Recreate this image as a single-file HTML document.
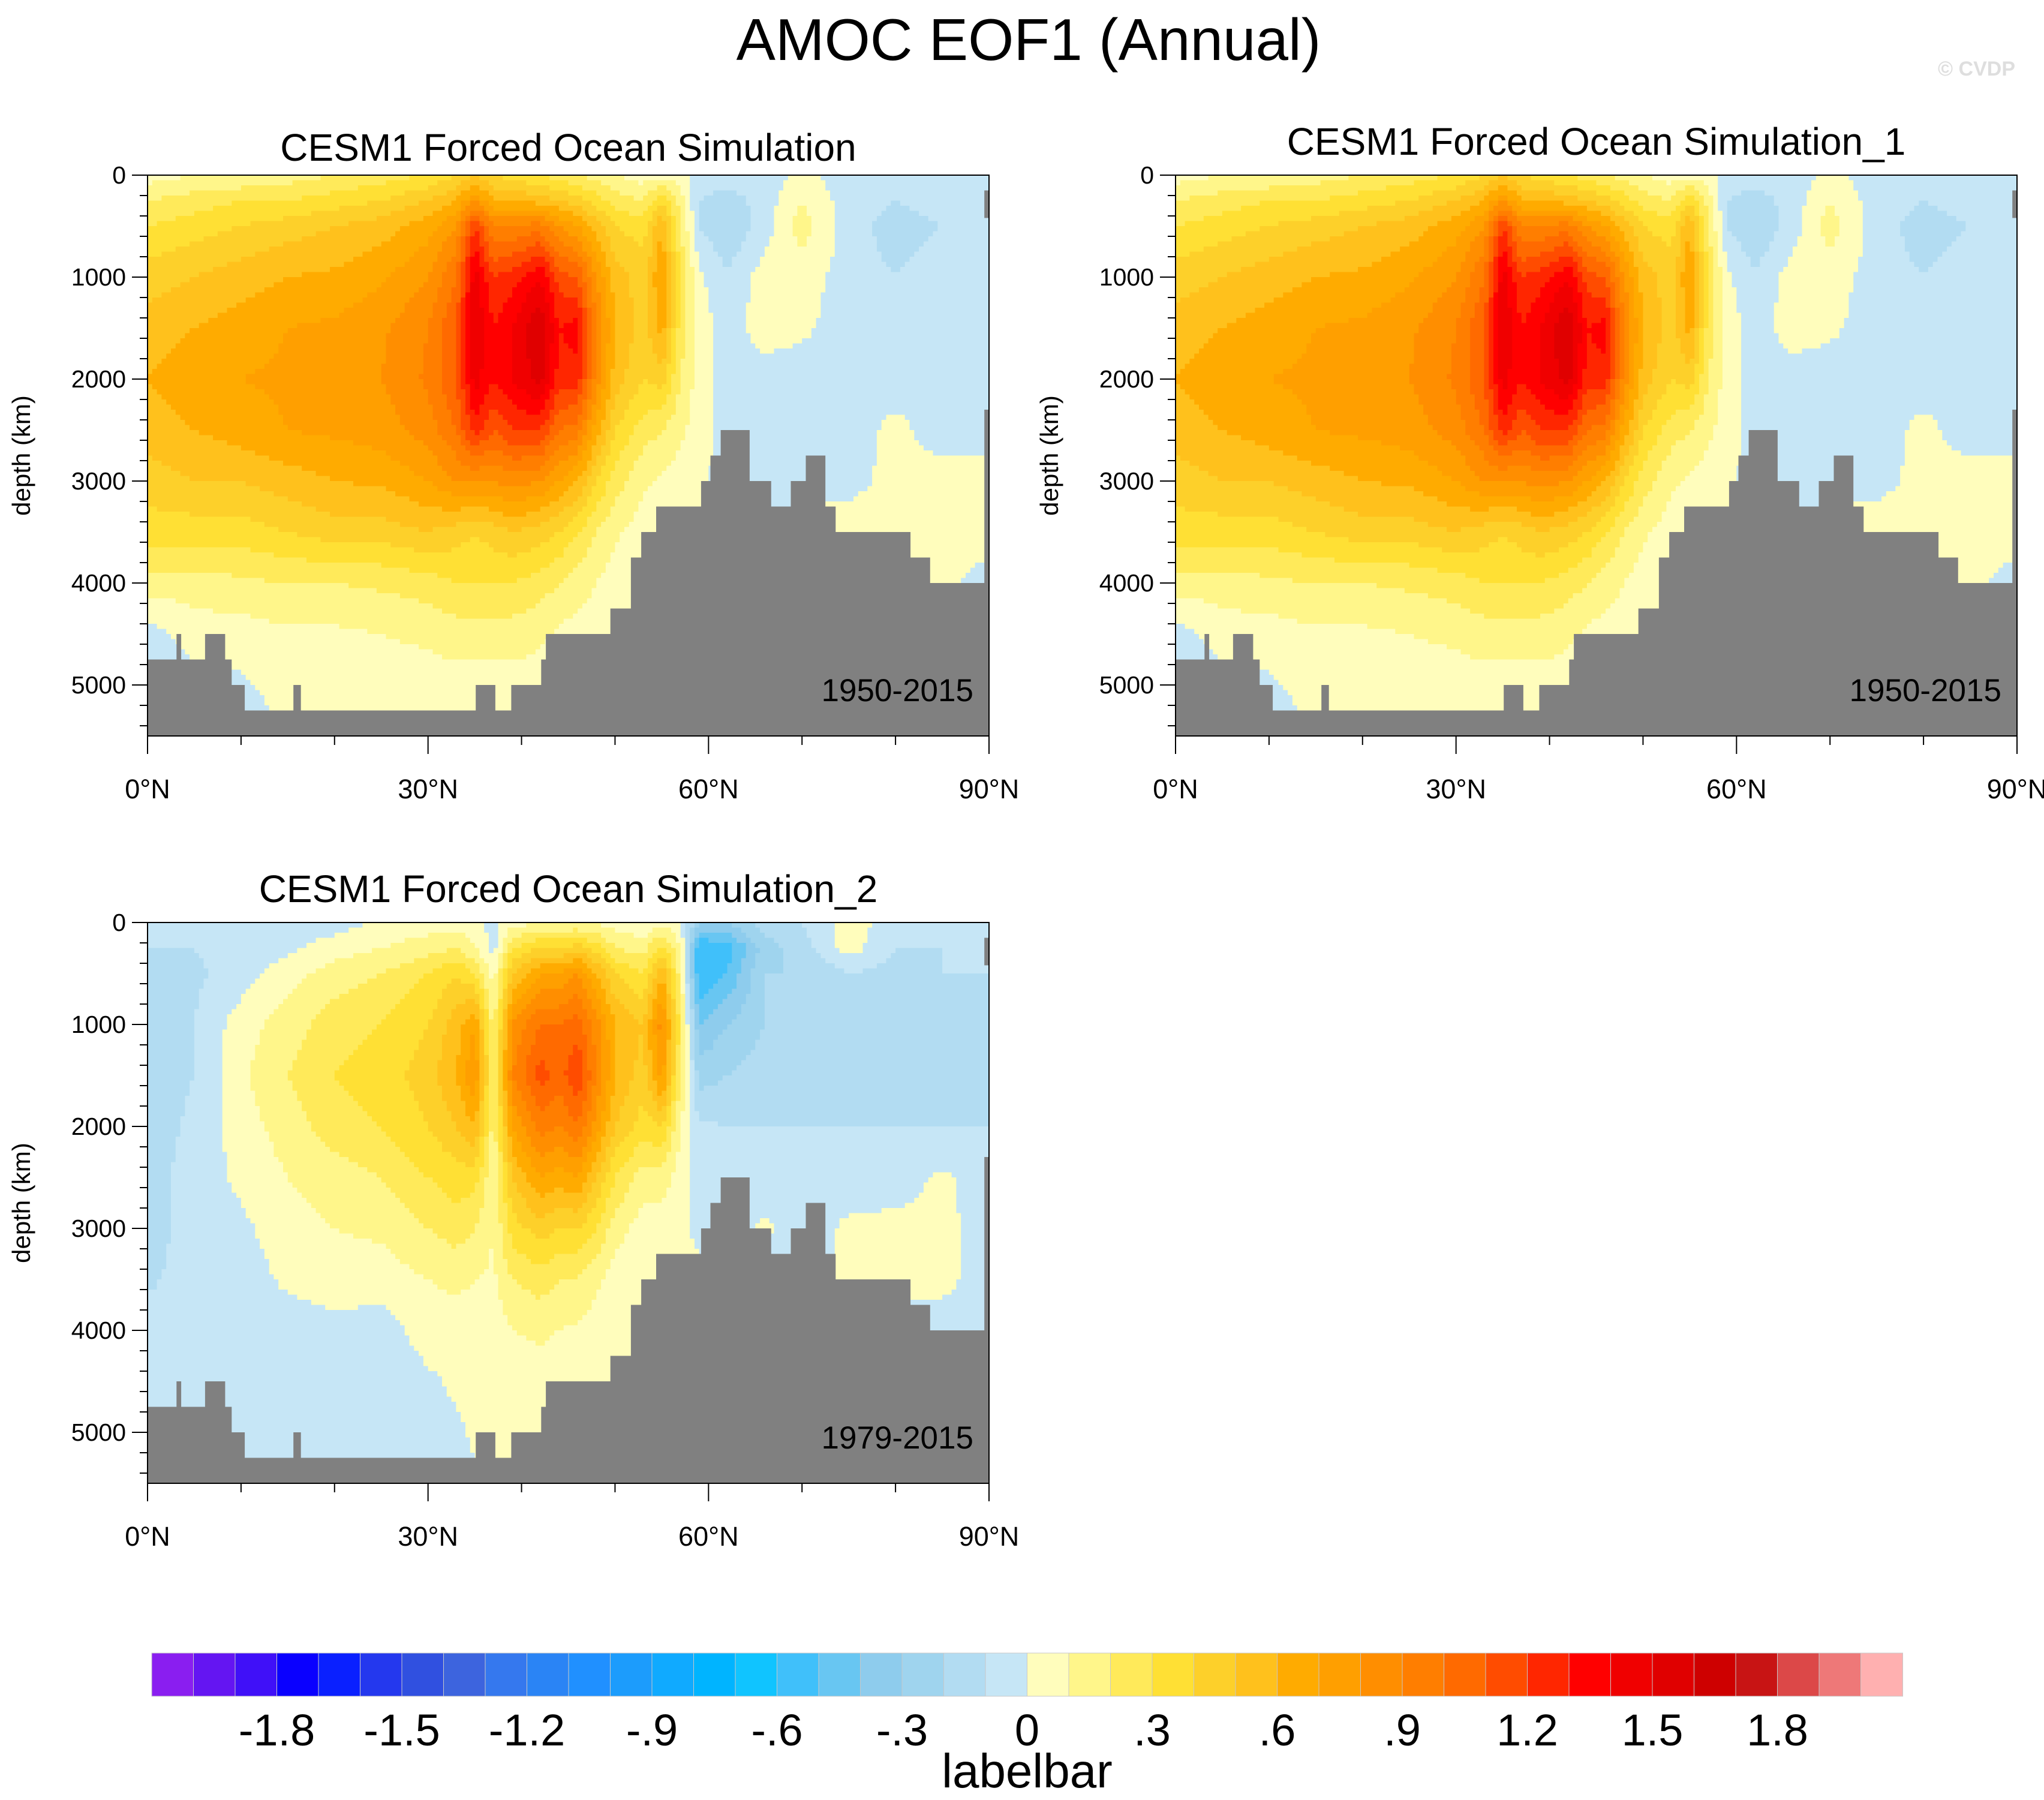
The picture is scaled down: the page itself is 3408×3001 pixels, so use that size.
<!DOCTYPE html>
<html><head><meta charset="utf-8"><style>
html,body{margin:0;padding:0;background:#fff}
svg{display:block}
text{font-family:"Liberation Sans",Arial,sans-serif}
</style></head><body>
<svg id="root" width="3408" height="3001" viewBox="0 0 3408 3001" xmlns="http://www.w3.org/2000/svg">
<text x="1715" y="100" font-size="98" text-anchor="middle">AMOC EOF1 (Annual)</text>
<text x="3360" y="126" font-size="34" font-weight="bold" fill="#dedede" text-anchor="end">© CVDP</text>
<g id="panels"></g>
<g id="labelbar"></g>
</svg>
<script>
// ---- data ----
const lats = [0,5,10,15,20,25,30,33,35,37,39,42,44,46,48,50,53,55,57,59,62,66,70,75,80,85,90];
const depths = [0,250,500,1000,1500,2000,2500,3000,3500,4000,4500,5000,5500];
const eofForced = [
[.05,.2,.3,.45,.55,.6,.55,.45,.35,.15,-.05,-.05,-.05],
[.1,.25,.35,.5,.6,.65,.6,.5,.35,.15,.05,-.05,-.05],
[.1,.3,.4,.55,.65,.7,.65,.5,.35,.18,.05,-.02,-.05],
[.15,.3,.45,.6,.7,.72,.7,.55,.4,.2,.08,.05,-.02],
[.2,.35,.5,.62,.72,.75,.72,.6,.45,.2,.08,.05,.02],
[.25,.4,.55,.68,.78,.8,.75,.62,.45,.22,.1,.05,.02],
[.3,.5,.65,.8,.9,.92,.85,.7,.5,.25,.12,.05,.02],
[.4,.6,.8,1.0,1.1,1.1,1.0,.8,.45,.3,.15,.06,.02],
[.5,.8,1.2,1.45,1.5,1.45,1.25,.8,.4,.3,.15,.05,.02],
[.4,.6,.9,1.2,1.3,1.3,1.1,.8,.45,.3,.15,.05,.02],
[.35,.6,.9,1.25,1.4,1.4,1.2,.85,.5,.3,.15,.06,.02],
[.3,.55,.95,1.4,1.6,1.55,1.2,.8,.45,.25,.12,.05,.02],
[.25,.5,.8,1.15,1.3,1.25,1.0,.7,.4,.2,.08,.04,.02],
[.2,.45,.7,1.1,1.35,1.25,.95,.6,.3,.15,.06,.03,.02],
[.15,.35,.55,.8,.9,.85,.65,.4,.2,.1,.05,.03,.02],
[.1,.25,.4,.55,.6,.55,.4,.25,.12,.05,.02,.02,.02],
[.05,.2,.35,.45,.45,.4,.25,.12,.05,.02,-.02,-.02,-.02],
[.05,.4,.6,.7,.65,.45,.2,.08,.03,-.02,-.03,-.03,-.03],
[.05,.15,.2,.3,.25,.2,.12,.05,.02,-.03,-.03,-.03,-.03],
[-.05,-.1,-.1,.02,.05,.05,.05,.03,-.02,-.03,-.03,-.03,-.03],
[-.05,-.15,-.2,-.08,-.05,-.05,-.05,-.05,-.05,-.05,-.05,-.05,-.05],
[-.05,-.05,-.05,.05,.05,-.05,-.05,-.02,-.02,-.05,-.05,-.05,-.05],
[.02,.1,.15,.05,.02,-.05,-.05,-.02,.02,.03,-.03,-.05,-.05],
[-.05,-.05,-.05,-.05,-.05,-.05,-.05,-.02,.03,.05,.02,-.05,-.05],
[-.05,-.1,-.15,-.1,-.05,-.05,.03,.02,.03,.02,-.05,-.05,-.05],
[-.05,-.05,-.1,-.05,-.05,-.05,-.05,.05,.05,.03,-.05,-.05,-.05],
[-.05,-.05,-.05,-.05,-.05,-.05,-.05,.05,.05,-.05,-.05,-.05,-.05]
];
const eofRecent = [
[-.05,-.1,-.15,-.15,-.15,-.15,-.15,-.15,-.12,-.05,-.05,-.05,-.05],
[-.05,-.1,-.12,-.1,-.1,-.08,-.05,-.05,-.05,-.05,-.05,-.05,-.05],
[-.05,-.05,-.05,.05,.08,.05,.02,-.02,-.05,-.05,-.05,-.05,-.05],
[-.05,-.02,.05,.15,.2,.15,.1,.05,.02,-.05,-.05,-.05,-.05],
[-.05,.05,.15,.25,.3,.25,.15,.1,.05,-.03,-.05,-.05,-.05],
[.02,.1,.2,.3,.35,.3,.2,.12,.05,-.05,-.08,-.05,-.05],
[.05,.15,.3,.4,.45,.4,.3,.2,.1,.05,-.02,-.05,-.05],
[.05,.2,.4,.55,.6,.5,.35,.25,.12,.06,.02,-.02,-.05],
[.02,.1,.3,.7,.8,.6,.35,.2,.1,.06,.03,.02,-.02],
[-.02,-.05,.05,.15,.2,.15,.1,.1,.08,.05,.03,.02,.02],
[.05,.3,.5,.8,.9,.7,.5,.35,.2,.1,.05,.02,.02],
[.1,.4,.7,1.0,1.15,.95,.7,.45,.25,.12,.05,.02,.02],
[.1,.4,.7,1.0,1.05,.9,.65,.4,.2,.1,.05,.02,.02],
[.1,.45,.8,1.05,1.2,1.0,.7,.4,.2,.08,.04,.02,.02],
[.08,.35,.6,.85,.9,.75,.5,.3,.12,.05,.03,.02,.02],
[.05,.2,.4,.6,.6,.5,.3,.15,.05,.03,.02,.02,.02],
[.02,.15,.3,.5,.45,.35,.15,.05,.02,.02,.02,.02,.02],
[.05,.35,.6,.85,.75,.4,.15,.05,.02,.02,.02,.02,.02],
[.02,.1,.15,.25,.2,.1,.05,.02,.02,.02,.02,.02,.02],
[-.3,-.6,-.6,-.4,-.25,-.08,-.03,-.02,.02,.02,.02,.02,.02],
[-.3,-.55,-.5,-.3,-.2,-.1,-.05,-.05,-.05,-.05,-.05,-.05,-.05],
[-.15,-.25,-.2,-.2,-.15,-.1,-.05,.02,-.05,-.05,-.05,-.05,-.05],
[-.1,-.15,-.2,-.2,-.15,-.1,-.05,-.05,-.05,-.05,-.05,-.05,-.05],
[.05,.05,-.1,-.2,-.15,-.1,-.05,.02,.02,-.05,-.05,-.05,-.05],
[-.05,-.1,-.15,-.15,-.15,-.1,-.05,.03,.03,-.05,-.05,-.05,-.05],
[-.05,-.1,-.1,-.15,-.15,-.1,.02,.03,.03,-.05,-.05,-.05,-.05],
[-.1,-.1,-.1,-.1,-.1,-.1,-.05,-.05,-.05,-.05,-.05,-.05,-.05]
];
const bathyStart = [0,3.1,3.6,6.15,8.3,9.0,10.4,15.6,16.4,35.1,37.2,38.9,42.1,42.6,49.5,51.7,52.8,54.4,59.2,60.2,61.3,64.4,66.7,68.8,70.4,72.5,73.6,81.6,83.7,89.5];
const bathyTop   = [4750,4500,4750,4500,4750,5000,5250,5000,5250,5000,5250,5000,4750,4500,4250,3750,3500,3250,3000,2750,2500,3000,3250,3000,2750,3250,3500,3750,4000,2300];
const levelValues = [-1.8,-1.5,-1.2,-0.9,-0.6,-0.3,0,0.3,0.6,0.9,1.2,1.5,1.8];
const levelLabels = ["-1.8","-1.5","-1.2","-.9","-.6","-.3","0",".3",".6",".9","1.2","1.5","1.8"];
const depthTicks = [0,1000,2000,3000,4000,5000];
const latTicks = [0,30,60,90];
const palette = ["#8a1ef0","#6415f2","#4010f8","#0a00ff","#0a20ff","#2438ee","#3050e0","#3d64de","#3578ee","#2a84f5","#2090ff","#1c9cfc","#10aaff","#00b4ff","#10c4ff","#40c0fa","#68c6f2","#8ecced","#9fd4ee","#b2dcf2","#c6e6f6","#fffdbc","#fff68a","#ffea5a","#ffe034","#fdd02a","#ffc11c","#ffab00","#ff9f00","#ff8e00","#ff7e00","#ff6a00","#ff4c00","#ff2600","#ff0000","#f00000","#e00000","#ce0000","#c81414","#dc4848","#ee7878","#ffb0b0"];

const NS="http://www.w3.org/2000/svg";
function mk(tag, attrs, parent){const e=document.createElementNS(NS,tag);for(const k in attrs)e.setAttribute(k,attrs[k]);if(parent)parent.appendChild(e);return e;}
function colorFor(v){let i=Math.floor(v*10+1e-9)+21;i=Math.max(0,Math.min(41,i));return palette[i];}
function interp(grid,lat,dep){
  let i=0;while(i<lats.length-2&&lat>lats[i+1])i++;
  let j=0;while(j<depths.length-2&&dep>depths[j+1])j++;
  const tx=(lat-lats[i])/(lats[i+1]-lats[i]), ty=(dep-depths[j])/(depths[j+1]-depths[j]);
  const a=grid[i][j],b=grid[i+1][j],c=grid[i][j+1],d=grid[i+1][j+1];
  return (a*(1-tx)+b*tx)*(1-ty)+(c*(1-tx)+d*tx)*ty;
}
const PW=1403, PH=935;
function drawPanel(px,py,grid,title,period,titleY,pname){
  const g=mk("g",{},document.getElementById("panels"));
  
  
  const X=l=>px+l/90*PW, Y=d=>py+d/5500*PH;
  const field=mk("g",{},g);
  
  
  const dl=0.5, dd=50;
  for(let d=0; d<5500; d+=dd){
    let runStart=0, runCol=null;
    for(let l=0; l<=90; l+=dl){
      const col = l<90 ? colorFor(interp(grid,l+dl/2,d+dd/2)) : null;
      if(col!==runCol){
        if(runCol!==null){
          const r=mk("rect",{x:X(runStart).toFixed(1),y:Y(d).toFixed(1),width:(X(l)-X(runStart)+0.6).toFixed(1),height:(Y(d+dd)-Y(d)+0.6).toFixed(1),fill:runCol},field);
          
          
        }
        runStart=l; runCol=col;
      }
    }
  }
  let pts=[[X(0),Y(5500)]];
  for(let k=0;k<bathyStart.length;k++){
    const l0=bathyStart[k], l1=k+1<bathyStart.length?bathyStart[k+1]:90;
    pts.push([X(l0),Y(bathyTop[k])],[X(l1),Y(bathyTop[k])]);
  }
  pts.push([X(90),Y(5500)]);
  const land=mk("polygon",{points:pts.map(p=>p[0].toFixed(1)+","+p[1].toFixed(1)).join(" "),fill:"#808080"},g);
  
  
  const cap=mk("rect",{x:X(89.5),y:Y(150),width:X(90)-X(89.5),height:Y(420)-Y(150),fill:"#808080"},g);
  
  
  const frame=mk("rect",{x:px,y:py,width:PW,height:PH,fill:"none",stroke:"#000","stroke-width":2},g);
  
  
  for(let d=0; d<=5400; d+=200){
    const major=d%1000===0;
    const t=mk("line",{x1:px,x2:px-(major?26:13),y1:Y(d),y2:Y(d),stroke:"#000","stroke-width":2},g);
    
    
  }
  depthTicks.forEach(d=>{
    const t=mk("text",{x:px-36,y:Y(d)+14,"font-size":41,"text-anchor":"end"},g);
    t.textContent=String(d);
    
    
  });
  for(let l=0;l<=90;l+=10){
    const major=l%30===0;
    const t=mk("line",{x1:X(l),x2:X(l),y1:py+PH,y2:py+PH+(major?30:15),stroke:"#000","stroke-width":2},g);
    
    
  }
  latTicks.forEach(l=>{
    const t=mk("text",{x:X(l),y:py+PH+104,"font-size":45,"text-anchor":"middle"},g);
    t.textContent=l+"°N";
    
    
  });
  const yt=mk("text",{x:0,y:0,"font-size":42,"text-anchor":"middle",transform:`translate(${px-196},${py+PH/2}) rotate(-90)`},g);
  yt.textContent="depth (km)";
  
  
  const tt=mk("text",{x:px+PW/2,y:titleY,"font-size":64,"text-anchor":"middle"},g);
  tt.textContent=title;
  
  
  const pt=mk("text",{x:px+PW-26,y:py+PH-58,"font-size":53,"text-anchor":"end"},g);
  pt.textContent=period;
  
  
}
drawPanel(246,292,eofForced,"CESM1 Forced Ocean Simulation","1950-2015",268,"panel-forced-ocean");
drawPanel(1960,292,eofForced,"CESM1 Forced Ocean Simulation_1","1950-2015",258,"panel-forced-ocean-1");
drawPanel(246,1538,eofRecent,"CESM1 Forced Ocean Simulation_2","1979-2015",1504,"panel-forced-ocean-2");

(function(){
  const lb=document.getElementById("labelbar");
  const x0=253, x1=3172, y0=2756, h=72, w=(x1-x0)/palette.length;
  palette.forEach((c,i)=>{
    const r=mk("rect",{x:(x0+i*w).toFixed(1),y:y0,width:(w+0.5).toFixed(1),height:h,fill:c,stroke:"#c8c8c8","stroke-width":1},lb);
    
    
  });
  const pos=v=>x0+(Math.round(v*10)+21)*w;
  levelValues.forEach((v,i)=>{
    const t=mk("text",{x:pos(v),y:2910,"font-size":74,"text-anchor":"middle"},lb);
    t.textContent=levelLabels[i];
    
    
  });
  const t=mk("text",{x:(x0+x1)/2,y:2980,"font-size":80,"text-anchor":"middle"},lb);
  t.textContent="labelbar";
  
  
})();
</script>
</body></html>
